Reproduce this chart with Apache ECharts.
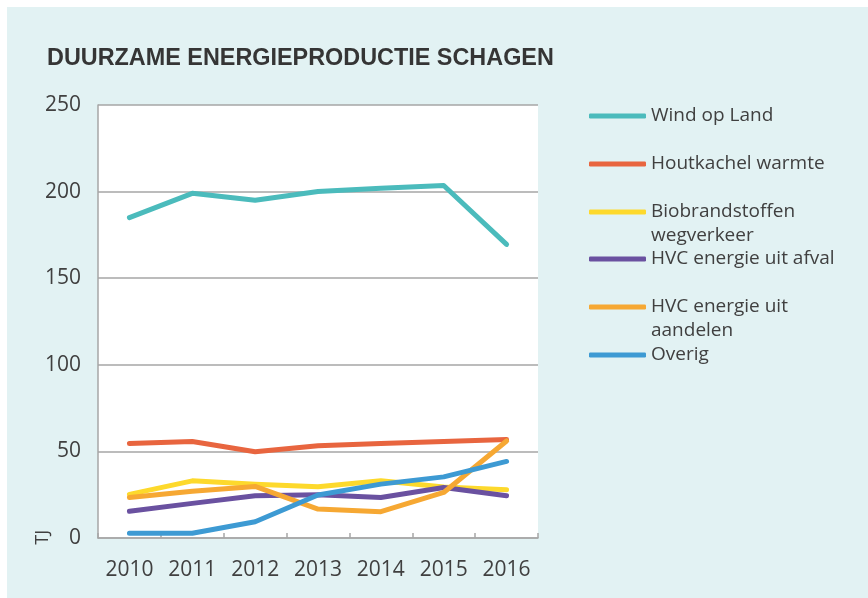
<!DOCTYPE html>
<html>
<head>
<meta charset="utf-8">
<script src="https://cdn.jsdelivr.net/npm/echarts@6/dist/echarts.min.js"></script>
<style>
html,body{margin:0;padding:0;background:#ffffff;}
#bg{position:absolute;left:7px;top:7px;right:0;bottom:0;background:#e2f2f3;}
#chart{position:absolute;left:0;top:0;width:868px;height:598px;}
</style>
</head>
<body>
<div id="bg"></div>
<div id="chart"></div>
<script>
const years = ['2010', '2011', '2012', '2013', '2014', '2015', '2016'];
const windOpLand = [185, 199, 195, 200, 202, 203.5, 169.5];
const houtkachel = [54.5, 55.7, 49.8, 53.2, 54.5, 55.7, 56.8];
const biobrandstoffen = [25.2, 33, 31, 29.6, 33, 29.5, 27.8];
const hvcAfval = [15.4, 20, 24.4, 25, 23.4, 29.2, 24.4];
const hvcAandelen = [23.4, 27, 29.8, 16.7, 15.2, 26.3, 56];
const overig = [2.7, 2.7, 9.4, 24.8, 31.1, 35.3, 44.2];
const yTicks = [0, 50, 100, 150, 200, 250];

const seriesDefs = [
  {name: 'Wind op Land', data: windOpLand, color: '#4bbbbc', label: 'Wind op Land', top: 104},
  {name: 'Houtkachel warmte', data: houtkachel, color: '#e8653f', label: 'Houtkachel warmte', top: 152},
  {name: 'Biobrandstoffen wegverkeer', data: biobrandstoffen, color: '#fdd92c', label: ' \nBiobrandstoffen\nwegverkeer', top: 176},
  {name: 'HVC energie uit afval', data: hvcAfval, color: '#6a51a0', label: 'HVC energie uit afval', top: 247},
  {name: 'HVC energie uit aandelen', data: hvcAandelen, color: '#f6a833', label: ' \nHVC energie uit\naandelen', top: 271},
  {name: 'Overig', data: overig, color: '#3d9ad3', label: 'Overig', top: 343}
];

const chart = echarts.init(document.getElementById('chart'), null, {renderer: 'canvas'});
const txt = '#404040';
const grey = '#a6a6a6';

const option = {
  backgroundColor: 'transparent',
  animation: false,
  title: {
    text: 'DUURZAME ENERGIEPRODUCTIE SCHAGEN',
    left: 47, top: 47, padding: 0,
    textStyle: {fontFamily: 'Liberation Sans', fontWeight: 'bold', fontSize: 23.4, color: '#353535'}
  },
  grid: {left: 98, right: 330, top: 105, bottom: 60, show: true, backgroundColor: '#ffffff', borderWidth: 0},
  legend: seriesDefs.map(s => ({
    data: [{name: s.name, icon: 'roundRect'}],
    left: 589, top: s.top, padding: 0,
    itemWidth: 57, itemHeight: 5,
    orient: 'vertical',
    selectedMode: false,
    itemStyle: {color: s.color, borderWidth: 0},
    formatter: () => s.label,
    textStyle: {fontFamily: 'Open Sans', fontSize: 19, color: txt, lineHeight: 24}
  })),
  xAxis: {
    type: 'category', data: years, boundaryGap: true,
    axisLine: {show: true, lineStyle: {color: grey, width: 1.5}},
    axisTick: {show: true, inside: true, length: 5, lineStyle: {color: grey, width: 1.5}},
    axisLabel: {fontFamily: 'Open Sans', fontSize: 21, color: txt, margin: 22},
    splitLine: {show: false}
  },
  yAxis: {
    type: 'value', min: 0, max: 250, interval: 50,
    axisLine: {show: true, lineStyle: {color: grey, width: 1.5}},
    axisTick: {show: false},
    axisLabel: {fontFamily: 'Open Sans', fontSize: 21, color: txt, margin: 17,
      formatter: v => yTicks.includes(v) ? String(v) : ''},
    splitLine: {show: true, lineStyle: {color: grey, width: 1.5}}
  },
  graphic: [{
    type: 'text', left: 34, top: 530, rotation: Math.PI / 2,
    style: {text: 'TJ', fontFamily: 'Open Sans', fontSize: 18, fill: txt}
  }],
  series: seriesDefs.map(s => ({
    name: s.name, type: 'line', data: s.data,
    showSymbol: false, symbol: 'none',
    lineStyle: {color: s.color, width: 5, cap: 'round', join: 'round'},
    itemStyle: {color: s.color}
  }))
};
chart.setOption(option);
</script>
</body>
</html>
